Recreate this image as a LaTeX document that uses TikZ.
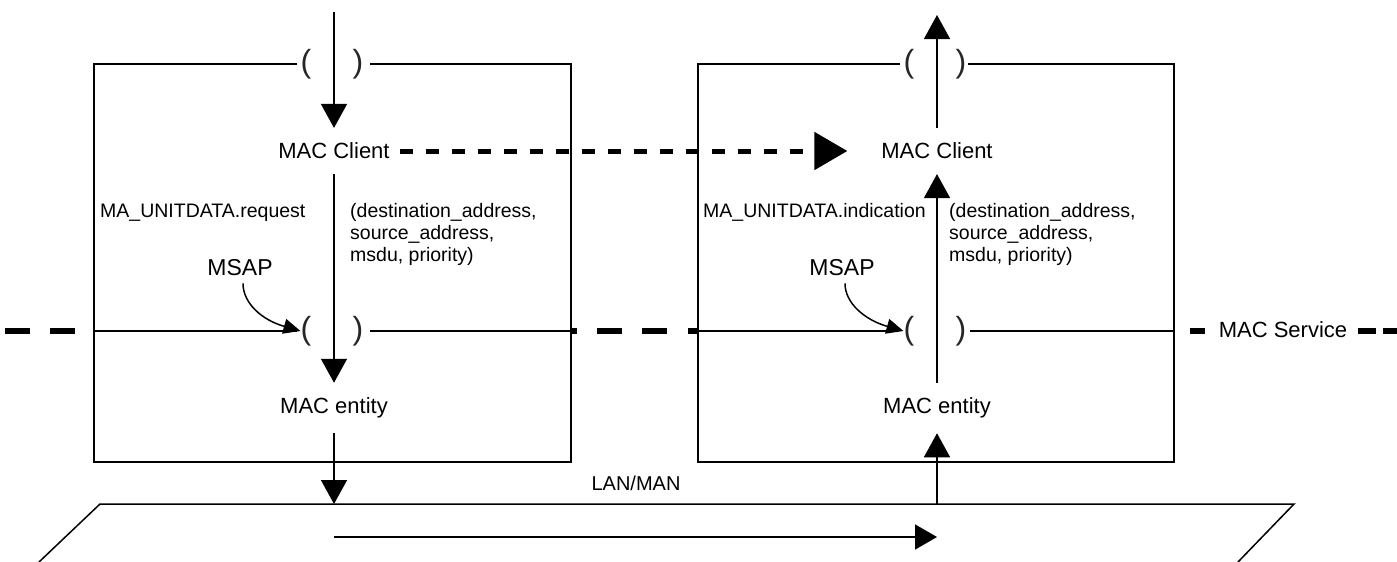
\documentclass[tikz,border=0pt]{standalone}
\usepackage{fontspec}
\setmainfont{Liberation Sans}
\usetikzlibrary{arrows.meta}
\begin{document}
\begin{tikzpicture}[x=1pt,y=-1pt,
  ln/.style={line width=1.5pt,black},
  arr/.style={ln,-{Triangle[length=24pt,width=26pt]}},
  macnode/.style={font=\fontsize{22}{26}\selectfont,inner sep=0pt,outer xsep=8pt,outer ysep=15pt},
  lbl/.style={font=\fontsize{19.5}{21.5}\selectfont,inner sep=0pt,anchor=base west},
  msap/.style={font=\fontsize{23}{26}\selectfont,inner sep=0pt},
  paren/.style={font=\fontsize{32}{32}\selectfont,inner sep=0pt,text=black!85},
  svc/.style={line width=6pt,black},
  msaparr/.style={ln,-{Triangle[length=17pt,width=15pt]}}
]
\useasboundingbox (0,0) rectangle (1397,562);

% boxes
\draw[ln] (297,64) -- (94,64) -- (94,462) -- (571,462) -- (571,64) -- (370,64);
\draw[ln] (94,331) -- (297,331);
\draw[ln] (370,331) -- (571,331);
\draw[ln] (900,64) -- (698,64) -- (698,462) -- (1174,462) -- (1174,64) -- (968,64);
\draw[ln] (698,331) -- (898,331);
\draw[ln] (970,331) -- (1174,331);

% parentheses
\node[paren] (pl1) at (306,64) {(};
\node[paren] (pr1) at (358,64) {)};
\node[paren] (pl2) at (306,331) {(};
\node[paren] (pr2) at (358,331) {)};
\node[paren] (pl3) at (909,64) {(};
\node[paren] (pr3) at (961,64) {)};
\node[paren] (pl4) at (909,331) {(};
\node[paren] (pr4) at (961,331) {)};

% main nodes
\node[macnode] (clientL) at (334,151) {MAC Client};
\node[macnode] (entityL) at (334,408) {MAC entity};
\node[macnode] (clientR) at (937,151) {MAC Client};
\node[macnode] (entityR) at (937,408) {MAC entity};

\coordinate (topL) at (334,12);
\coordinate (topR) at (937,15);
\coordinate (lanL) at (334,504);
\coordinate (lanR) at (937,504);
\coordinate (inA) at (334,537);
\coordinate (inB) at (937,537);

% vertical arrows
\draw[arr] (topL) -- (clientL);
\draw[arr] (clientL) -- (entityL);
\draw[arr] (entityL) -- (lanL);
\draw[arr] (clientR) -- (topR);
\draw[arr] (entityR) -- (clientR);
\draw[arr] (lanR) -- (entityR);

% dashed peer arrow
\draw[line width=5pt,dash pattern=on 13pt off 13pt,-{Triangle[length=33pt,width=37pt]},shorten >=26pt,shorten <=2pt] (clientL) -- (clientR);

% labels
\node[lbl] (reqL) at (100,217) {MA\_UNITDATA.request};
\node[lbl] (pL1) at (350,217) {(destination\_address,};
\node[lbl] (pL2) at (350,239) {source\_address,};
\node[lbl] (pL3) at (350,261) {msdu, priority)};
\node[lbl] (indR) at (703,217) {MA\_UNITDATA.indication};
\node[lbl] (pR1) at (949,217) {(destination\_address,};
\node[lbl] (pR2) at (949,239) {source\_address,};
\node[lbl] (pR3) at (949,261) {msdu, priority)};

% MSAP
\node[msap] (msapL) at (240,268) {MSAP};
\node[msap] (msapR) at (842,268) {MSAP};
\draw[msaparr] (msapL.south) ++(3,7) .. controls +(0,20) and (262,320) .. (pl2.west);
\draw[msaparr] (msapR.south) ++(3,7) .. controls +(0,20) and (865,320) .. (pl4.west);

% MAC service dashed line
\draw[svc] (5,331) -- (30,331);
\draw[svc] (50,331) -- (75,331);
\draw[svc] (572,331) -- (577,331);
\draw[svc] (597,331) -- (622,331);
\draw[svc] (642,331) -- (667,331);
\draw[svc] (688,331) -- (698,331);
\draw[svc] (1190,331) -- (1205,331);
\node[font=\fontsize{22}{26}\selectfont,inner sep=0pt] (svcT) at (1283,330) {MAC Service};
\draw[svc] (1358,331) -- (1376,331);
\draw[svc] (1383,331) -- (1397,331);

% LAN
\node[font=\fontsize{20}{24}\selectfont,inner sep=0pt] (lan) at (636,483) {LAN/MAN};
\draw[ln] (39,562) -- (100,504) -- (1294,504) -- (1238,562);
\draw[ln,-{Triangle[length=22pt,width=25pt]}] (inA) -- (inB);
\end{tikzpicture}
\end{document}
